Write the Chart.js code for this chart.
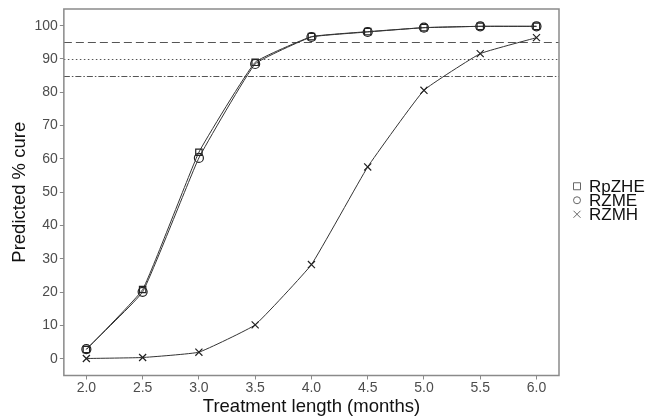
<!DOCTYPE html>
<html><head><meta charset="utf-8">
<script src="https://cdn.jsdelivr.net/npm/chart.js@4"></script>
<style>html,body{margin:0;padding:0;background:#fff}#wrap{width:654px;height:416px}</style>
</head><body><div id="wrap"><canvas id="c" width="654" height="416"></canvas></div>
<script>
const months = [2.0, 2.5, 3.0, 3.5, 4.0, 4.5, 5.0, 5.5, 6.0];
const rpzhe = [2.8, 20.8, 62.0, 89.0, 96.7, 98.2, 99.4, 99.8, 99.8];
const rzme  = [2.9, 20.1, 60.3, 88.5, 96.6, 98.1, 99.4, 99.8, 99.8];
const rzmh  = [0.1, 0.4, 2.0, 10.2, 28.3, 57.6, 80.6, 91.6, 96.4];
const yTicks = [0, 10, 20, 30, 40, 50, 60, 70, 80, 90, 100];
const refLines = [95, 90, 85];
const seriesNames = ['RpZHE', 'RZME', 'RZMH'];

const refStyles = [[8,4],[1.5,2.5],[6,2,1.5,2]];
const styles = ['rect','circle','crossRot'];
const mk = (vals) => vals.map((v,i)=>({x: months[i], y: v}));

const refPlugin = {
  id: 'refs',
  beforeDatasetsDraw(chart) {
    const {ctx, chartArea:a, scales:{y}} = chart;
    ctx.save();
    ctx.strokeStyle = '#555';
    ctx.lineWidth = 1.1;
    refLines.forEach((v,i)=>{
      const py = Math.round(y.getPixelForValue(v)) + 0.5;
      ctx.setLineDash(refStyles[i]);
      ctx.beginPath(); ctx.moveTo(a.left, py); ctx.lineTo(a.right, py); ctx.stroke();
    });
    ctx.restore();
  },
  afterDraw(chart) {
    const {ctx, chartArea:a} = chart;
    ctx.save();
    ctx.strokeStyle = '#8a8a8a';
    ctx.lineWidth = 1.5;
    ctx.strokeRect(a.left, a.top, a.right - a.left, a.bottom - a.top);
    // legend
    const lx = a.right + 18, ly0 = (a.top + a.bottom) / 2 - 6, dy = 14;
    ctx.font = '17px "Liberation Sans"';
    ctx.textBaseline = 'middle';
    seriesNames.forEach((n,i)=>{
      const cy = ly0 + i*dy;
      ctx.strokeStyle = '#666';
      ctx.lineWidth = 1;
      ctx.beginPath();
      if (i===0) { ctx.rect(lx-3.5, cy-3.5, 7, 7); }
      else if (i===1) { ctx.arc(lx, cy, 3.5, 0, Math.PI*2); }
      else { ctx.moveTo(lx-3.5, cy-3.5); ctx.lineTo(lx+3.5, cy+3.5); ctx.moveTo(lx+3.5, cy-3.5); ctx.lineTo(lx-3.5, cy+3.5); }
      ctx.stroke();
      ctx.fillStyle = '#111';
      ctx.fillText(n, lx + 12, cy + 1);
    });
    ctx.restore();
  }
};

new Chart(document.getElementById('c'), {
  type: 'line',
  data: {
    datasets: [rpzhe, rzme, rzmh].map((d,i)=>({
      label: seriesNames[i],
      data: mk(d),
      borderColor: '#333',
      borderWidth: 1,
      pointStyle: styles[i],
      pointRadius: i===2 ? 5 : 4.5,
      pointBorderColor: '#222',
      pointBackgroundColor: 'rgba(0,0,0,0)',
      pointBorderWidth: 1.2,
      tension: 0.1,
      fill: false
    }))
  },
  options: {
    responsive: false,
    animation: false,
    devicePixelRatio: 1,
    layout: {padding: {left: 11, top: 6, right: 95, bottom: 0}},
    plugins: {
      legend: {display: false},
      tooltip: {enabled: false}
    },
    scales: {
      x: {
        type: 'linear', min: 1.8, max: 6.2,
        afterBuildTicks: (s) => { s.ticks = months.map(v=>({value:v})); },
        ticks: {callback: (v)=>v.toFixed(1), color: '#4d4d4d', font: {family:'Liberation Sans', size: 14, lineHeight: 1}, padding: 2, maxRotation: 0},
        grid: {drawOnChartArea: false, tickLength: 4, color: '#8a8a8a'},
        border: {display: false},
        title: {display: true, text: 'Treatment length (months)', color: '#111', font: {family:'Liberation Sans', size: 18.5, lineHeight: 1}, padding: {top: 0, bottom: 0}}
      },
      y: {
        type: 'linear', min: -5, max: 105,
        afterBuildTicks: (s) => { s.ticks = yTicks.map(v=>({value:v})); },
        ticks: {color: '#4d4d4d', font: {family:'Liberation Sans', size: 14, lineHeight: 1}, padding: 2},
        grid: {drawOnChartArea: false, tickLength: 4, color: '#8a8a8a'},
        border: {display: false},
        title: {display: true, text: 'Predicted % cure', color: '#111', font: {family:'Liberation Sans', size: 18.5, lineHeight: 1}, padding: {top: 0, bottom: 3}}
      }
    }
  },
  plugins: [refPlugin]
});
</script></body></html>
